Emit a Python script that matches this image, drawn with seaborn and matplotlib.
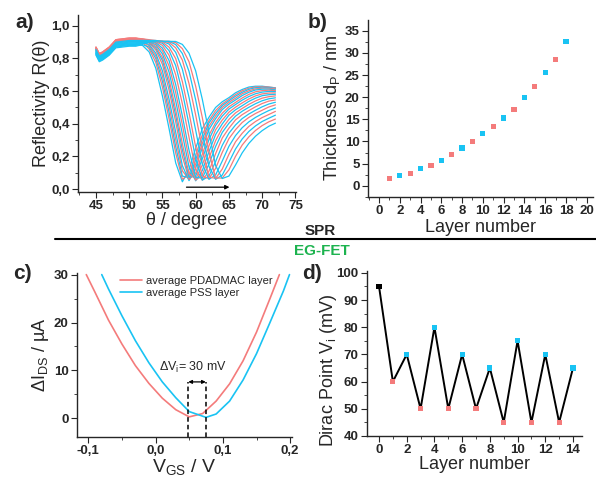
import numpy as np
import pandas as pd
import seaborn as sns
import matplotlib
matplotlib.use("Agg")
import matplotlib.pyplot as plt
from matplotlib.ticker import MultipleLocator, FuncFormatter
from matplotlib.lines import Line2D

RED = "#f47b7b"
BLUE = "#19c3f3"

# a) SPR reflectivity curves, one per layer (0 = bare, then alternating PDADMAC / PSS)
theta = [45, 45.5, 46, 47, 48, 49, 50, 51, 52, 53, 54, 55, 56, 57, 58, 59, 60,
         61, 62, 63, 64, 65, 66, 67, 68, 69, 70, 71, 72]
refl = [
    [.83, .79, .80, .83, .875, .88, .885, .885, .88, .84, .74, .57, .37, .16, .045, .12, .25,
     .37, .44, .50, .535, .56, .59, .61, .625, .63, .63, .625, .62],
    [.86, .82, .83, .86, .905, .91, .915, .915, .90, .858, .776, .624, .43, .22, .06, .09, .207,
     .333, .42, .481, .522, .55, .579, .602, .618, .626, .628, .625, .62],
    [.82, .78, .79, .82, .865, .87, .875, .875, .885, .87, .80, .66, .47, .26, .08, .07, .179,
     .306, .405, .464, .512, .541, .569, .593, .611, .621, .624, .622, .617],
    [.85, .81, .82, .85, .895, .90, .905, .905, .902, .878, .816, .692, .51, .304, .112, .06, .154,
     .28, .385, .448, .50, .531, .557, .584, .602, .614, .618, .618, .613],
    [.84, .80, .81, .84, .885, .89, .895, .895, .90, .886, .832, .724, .55, .348, .144, .052, .129,
     .254, .365, .431, .487, .52, .546, .573, .593, .607, .612, .612, .608],
    [.87, .83, .84, .87, .915, .92, .925, .925, .915, .894, .852, .764, .606, .41, .20, .06, .099,
     .214, .33, .408, .465, .504, .531, .558, .58, .596, .603, .606, .603],
    [.83, .79, .80, .83, .875, .88, .885, .885, .895, .898, .864, .788, .642, .45, .24, .073, .08,
     .185, .303, .39, .447, .49, .518, .545, .567, .584, .594, .598, .597],
    [.86, .82, .83, .86, .905, .91, .915, .915, .91, .90, .873, .806, .673, .486, .278, .093, .063,
     .148, .265, .363, .423, .471, .502, .528, .552, .571, .583, .588, .589],
    [.84, .80, .81, .84, .885, .89, .895, .895, .905, .903, .884, .828, .716, .54, .337, .136, .051,
     .114, .229, .334, .399, .453, .486, .511, .537, .557, .572, .578, .581],
    [.865, .825, .835, .865, .91, .915, .92, .92, .912, .905, .892, .847, .754, .59, .394, .184, .055,
     .088, .19, .297, .373, .427, .467, .494, .519, .54, .557, .566, .571],
    [.825, .785, .795, .825, .87, .875, .88, .88, .89, .905, .898, .863, .787, .64, .448, .238, .072,
     .068, .153, .261, .347, .403, .447, .477, .501, .523, .541, .553, .559],
    [.855, .815, .825, .855, .90, .905, .91, .91, .905, .905, .903, .88, .82, .70, .522, .317, .118,
     .055, .11, .217, .313, .373, .424, .456, .481, .504, .524, .539, .546],
    [.835, .795, .805, .835, .88, .885, .89, .89, .895, .90, .905, .893, .848, .756, .594, .396, .186,
     .055, .08, .169, .268, .342, .393, .432, .46, .483, .504, .521, .532],
    [.87, .83, .84, .87, .915, .92, .925, .925, .92, .91, .905, .90, .869, .799, .658, .468, .258,
     .08, .064, .127, .225, .309, .364, .408, .439, .463, .483, .503, .516],
    [.85, .81, .82, .85, .895, .90, .905, .905, .905, .905, .905, .905, .888, .837, .734, .562, .361,
     .154, .06, .087, .172, .262, .328, .376, .412, .439, .461, .481, .497],
    [.86, .82, .83, .86, .905, .91, .915, .915, .91, .91, .905, .905, .898, .865, .79, .646, .454,
     .244, .074, .066, .123, .213, .29, .342, .384, .414, .438, .457, .476],
    [.845, .805, .815, .845, .89, .895, .90, .90, .90, .905, .905, .905, .904, .885, .83, .721, .546,
     .344, .14, .06, .086, .164, .246, .307, .353, .387, .414, .434, .453],
    [.865, .825, .835, .865, .91, .915, .92, .92, .92, .915, .91, .905, .905, .897, .86, .78, .63,
     .438, .228, .068, .068, .118, .201, .27, .32, .359, .389, .412, .429],
    [.855, .815, .825, .855, .90, .905, .91, .91, .91, .91, .91, .905, .905, .904, .886, .832, .724,
     .55, .348, .144, .065, .08, .148, .222, .28, .324, .358, .385, .404],
]

# b) film thickness per layer
layers_b = list(range(1, 19))
thickness = [1.65, 2.3, 2.85, 3.9, 4.65, 5.8, 7.0, 8.55, 10.0, 11.8, 13.3, 15.3,
             17.3, 20.0, 22.4, 25.5, 28.5, 32.6]

# c) transfer curves
vgs_pdadmac = [-0.103, -0.09, -0.07, -0.05, -0.03, -0.01, 0.01, 0.03, 0.05, 0.07,
               0.09, 0.11, 0.13, 0.15, 0.17, 0.184]
ids_pdadmac = [30, 26.3, 20.5, 15.5, 11.0, 7.3, 4.2, 1.8, 0.3, 1.0,
               3.6, 7.2, 12.0, 18.0, 25.0, 30]
vgs_pss = [-0.080, -0.07, -0.05, -0.03, -0.01, 0.01, 0.03, 0.05, 0.075, 0.09,
           0.11, 0.13, 0.15, 0.17, 0.19, 0.199]
ids_pss = [30, 27.0, 21.4, 16.2, 11.6, 7.6, 4.3, 1.4, 0.2, 0.9,
           3.6, 8.0, 13.5, 20.0, 26.6, 30]
dirac_marks = [0.0486, 0.0746]

# d) Dirac point per layer
layers_d = list(range(15))
dirac = [95, 60, 70, 50, 80, 50, 70, 50, 65, 45, 75, 45, 70, 45, 65]

sns.set_style("ticks")
plt.rcParams['font.family'] = ['Liberation Sans', 'DejaVu Sans']
plt.rcParams['mathtext.default'] = 'regular'
plt.rcParams['axes.linewidth'] = 1.0
plt.rcParams['xtick.major.size'] = 4
plt.rcParams['ytick.major.size'] = 4
plt.rcParams['xtick.minor.size'] = 2
plt.rcParams['ytick.minor.size'] = 2
plt.rcParams['xtick.direction'] = 'out'
plt.rcParams['ytick.direction'] = 'out'


def layer_color(n):
    return BLUE if n % 2 == 0 else RED


comma = FuncFormatter(lambda v, pos: f"{v:.1f}".replace('.', ','))


def style_ticks(ax):
    for lab in ax.get_xticklabels() + ax.get_yticklabels():
        lab.set_fontweight('bold')
        lab.set_fontsize(9.5)
    ax.tick_params(pad=2)


fig = plt.figure(figsize=(5.96, 4.79), dpi=100)

# ---- a) SPR curves
ax_a = fig.add_axes([0.1309, 0.599, 0.3658, 0.37])
rows = []
for n, curve in enumerate(refl):
    for t, r in zip(theta, curve):
        rows.append((t, r, n))
df_a = pd.DataFrame(rows, columns=['theta', 'R', 'layer'])
sns.lineplot(data=df_a, x='theta', y='R', hue='layer', palette={n: layer_color(n) for n in range(len(refl))},
             estimator=None, sort=False, legend=False, lw=0.9, ax=ax_a)
ax_a.annotate('', xy=(65.5, 0.012), xytext=(58.2, 0.012),
              arrowprops=dict(arrowstyle='-|>', color='black', lw=0.9, mutation_scale=6))
ax_a.set_xlim(42.3, 75.1)
ax_a.set_ylim(-0.018, 1.067)
ax_a.xaxis.set_major_locator(MultipleLocator(5))
ax_a.xaxis.set_minor_locator(MultipleLocator(2.5))
ax_a.yaxis.set_major_locator(MultipleLocator(0.2))
ax_a.yaxis.set_minor_locator(MultipleLocator(0.1))
ax_a.yaxis.set_major_formatter(comma)
ax_a.set_xlabel('θ / degree', fontsize=13, labelpad=0)
ax_a.set_ylabel('Reflectivity R(θ)', fontsize=13, labelpad=1)
sns.despine(ax=ax_a)
style_ticks(ax_a)

# ---- b) thickness
ax_b = fig.add_axes([0.6174, 0.589, 0.3775, 0.369])
df_b = pd.DataFrame({'layer': layers_b, 'd': thickness,
                     'c': [layer_color(n) for n in layers_b]})
sns.scatterplot(data=df_b, x='layer', y='d', hue='c', palette={RED: RED, BLUE: BLUE},
                marker='s', s=14, linewidth=0, legend=False, ax=ax_b)
ax_b.set_xlim(-1.06, 20.6)
ax_b.set_ylim(-2.5, 37.4)
ax_b.xaxis.set_major_locator(MultipleLocator(2))
ax_b.xaxis.set_minor_locator(MultipleLocator(1))
ax_b.yaxis.set_major_locator(MultipleLocator(5))
ax_b.yaxis.set_minor_locator(MultipleLocator(2.5))
ax_b.set_xlabel('Layer number', fontsize=13, labelpad=1)
ax_b.set_ylabel('Thickness d$_P$ / nm', fontsize=13, labelpad=2)
sns.despine(ax=ax_b)
style_ticks(ax_b)

# ---- c) transfer curves
ax_c = fig.add_axes([0.1292, 0.0877, 0.3607, 0.342])
df_c = pd.concat([
    pd.DataFrame({'V': vgs_pdadmac, 'I': ids_pdadmac, 'film': 'average PDADMAC layer'}),
    pd.DataFrame({'V': vgs_pss, 'I': ids_pss, 'film': 'average PSS layer'}),
])
sns.lineplot(data=df_c, x='V', y='I', hue='film', estimator=None, sort=False, lw=1.2,
             palette={'average PDADMAC layer': RED, 'average PSS layer': BLUE}, ax=ax_c)
ax_c.legend(loc='upper center', bbox_to_anchor=(0.555, 1.045), frameon=False, fontsize=8,
            handlelength=2.0, handletextpad=0.4, labelspacing=0.2, title=None)
for v in dirac_marks:
    ax_c.plot([v, v], [-4, 7.6], ls=(0, (3, 2)), color='black', lw=1.1)
ax_c.annotate('', xy=(dirac_marks[0], 7.6), xytext=(dirac_marks[1], 7.6),
              arrowprops=dict(arrowstyle='<|-|>', color='black', lw=0.9, mutation_scale=5,
                              shrinkA=0, shrinkB=0))
ax_c.text(0.056, 9.0, 'ΔV$_i$= 30 mV', fontsize=9, ha='center', va='bottom')
ax_c.set_xlim(-0.1168, 0.2027)
ax_c.set_ylim(-3.9, 30.3)
ax_c.xaxis.set_major_locator(MultipleLocator(0.1))
ax_c.xaxis.set_minor_locator(MultipleLocator(0.05))
ax_c.yaxis.set_major_locator(MultipleLocator(10))
ax_c.yaxis.set_minor_locator(MultipleLocator(5))
ax_c.xaxis.set_major_formatter(comma)
ax_c.set_xlabel('V$_{GS}$ / V', fontsize=14, labelpad=0)
ax_c.set_ylabel('ΔI$_{DS}$ / µA', fontsize=13, labelpad=2)
sns.despine(ax=ax_c)
style_ticks(ax_c)

# ---- d) Dirac point
ax_d = fig.add_axes([0.6158, 0.0898, 0.3607, 0.344])
df_d = pd.DataFrame({'layer': layers_d, 'V': dirac,
                     'c': ['black'] + [layer_color(n) for n in layers_d[1:]]})
sns.lineplot(data=df_d, x='layer', y='V', color='black', lw=1.4, ax=ax_d)
sns.scatterplot(data=df_d, x='layer', y='V', hue='c',
                palette={'black': 'black', RED: RED, BLUE: BLUE},
                marker='s', s=14, linewidth=0, legend=False, zorder=3, ax=ax_d)
ax_d.set_xlim(-0.866, 14.65)
ax_d.set_ylim(40, 100.6)
ax_d.xaxis.set_major_locator(MultipleLocator(2))
ax_d.xaxis.set_minor_locator(MultipleLocator(1))
ax_d.yaxis.set_major_locator(MultipleLocator(10))
ax_d.yaxis.set_minor_locator(MultipleLocator(5))
ax_d.set_xlabel('Layer number', fontsize=13, labelpad=0)
ax_d.set_ylabel('Dirac Point V$_i$ (mV)', fontsize=13)
ax_d.yaxis.set_label_coords(-0.13, 0.4)
sns.despine(ax=ax_d)
style_ticks(ax_d)

# panel letters and section divider
for lab, (x, y) in {'a)': (0.042, 0.952), 'b)': (0.532, 0.952),
                    'c)': (0.038, 0.43), 'd)': (0.523, 0.43)}.items():
    fig.text(x, y, lab, fontsize=15, fontweight='bold', ha='center', va='center')
fig.add_artist(Line2D([0.092, 1.0], [1 - 239 / 479] * 2, color='black', lw=1.5,
                      transform=fig.transFigure))
fig.text(0.537, 1 - 231 / 479, 'SPR', fontsize=11, fontweight='bold', ha='center', va='center')
fig.text(0.54, 1 - 251 / 479, 'EG-FET', fontsize=11, fontweight='bold', ha='center', va='center',
         color='#1db34f')

fig.savefig('out.png', dpi=100)
